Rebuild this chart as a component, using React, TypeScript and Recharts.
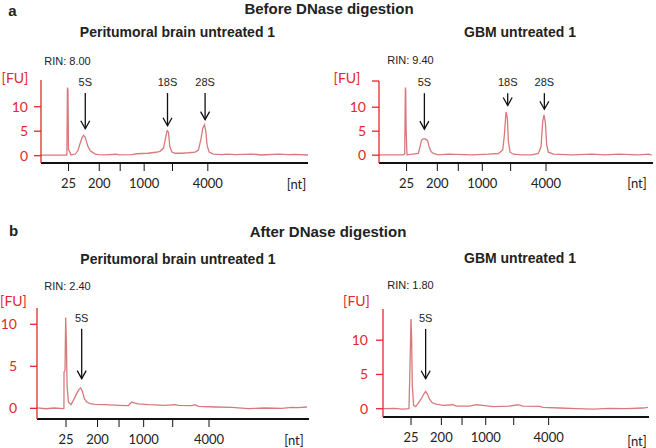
import { LineChart, Line, XAxis, YAxis, ReferenceLine } from 'recharts';

// ladder: migration time (s) of each size marker, and its label
const ladderTimes = [23.16, 28.91, 32.83, 37.32, 42.62, 49.24];
const ladderLabels = ['25', '200', '', '1000', '', '4000'];
const fuTicks = [0, 5, 10];

// a: before DNase, peritumoral brain
const aLeftTime = [18, 20, 22, 22.67, 22.85, 22.95, 23.05, 23.15, 23.35, 23.6, 24.42, 24.9, 25.35, 25.66, 25.97, 26.2, 26.41, 26.79, 27.22, 27.66, 28.16, 28.78, 30, 32.2, 32.5, 35, 36, 38, 39.5, 40.3, 40.94, 41.38, 41.63, 41.87, 42.12, 42.5, 43.12, 44.37, 45.62, 46.86, 47.49, 47.99, 48.3, 48.61, 48.86, 49.11, 49.48, 50.29, 51.85, 52.79, 54.35, 57.46, 59.33, 62.45, 64.32, 65.57, 68];
const aLeftFU = [0.1, 0.1, 0.12, 0.14, 0.15, 13.9, 13.5, 1.2, 0.9, 0.15, 0.34, 1.0, 2.58, 3.6, 4.15, 3.9, 3.27, 1.9, 1.02, 0.68, 0.34, 0.2, 0.15, 0.3, 0.15, 0.2, 0.4, 0.5, 0.7, 0.9, 1.56, 3.9, 5.1, 4.8, 1.9, 0.75, 0.5, 0.5, 0.6, 0.75, 1.15, 3.6, 5.65, 6.3, 5.0, 2.1, 0.75, 0.34, 0.2, 0.34, 0.2, 0.34, 0.14, 0.34, 0.2, 0.27, 0.14];

// a: before DNase, GBM
const aRightTime = [18, 22.56, 22.81, 22.93, 23, 23.06, 23.15, 23.24, 25.36, 25.67, 25.99, 26.3, 26.61, 26.9, 27.11, 27.36, 27.73, 28.17, 29.1, 30.97, 35.34, 38.46, 40.33, 41.14, 41.45, 41.76, 42.01, 42.2, 42.51, 43.13, 44.69, 46.56, 47.81, 48.31, 48.62, 48.87, 49.12, 49.37, 49.68, 50.62, 54.04, 57.78, 60.28, 62.77, 66.51, 68.39, 69.01];
const aRightFU = [0.07, 0.07, 0.3, 14.1, 13.4, 6.3, 2.5, 0.07, 0.35, 1.8, 3.2, 3.4, 3.4, 3.2, 3.0, 1.8, 0.76, 0.35, 0.07, 0.2, 0.07, 0.2, 0.35, 1.1, 4.2, 9.0, 7.7, 2.85, 0.62, 0.2, 0.07, 0.07, 0.35, 1.8, 7.0, 8.4, 6.7, 2.15, 0.62, 0.2, 0.07, 0.2, 0.07, 0.2, 0.07, 0.2, 0.0];

// b: after DNase, peritumoral brain
const bLeftTime = [17.9, 19.5, 21, 22.68, 22.78, 22.8, 22.98, 23.1, 23.23, 23.35, 23.59, 24.08, 24.5, 25.11, 25.53, 25.84, 26.14, 26.51, 26.93, 27.54, 28.45, 30.28, 32.71, 34.53, 35.14, 35.75, 36.35, 38.18, 41.22, 43.04, 43.65, 46.08, 46.69, 47.29, 50.33, 53.37, 56.41, 59.45, 62.49, 64.31, 65.53, 67.11];
const bLeftFU = [0.05, -0.05, 0.04, -0.04, 0.0, 4.33, 4.5, 10.8, 7.9, 2.74, 0.75, 0.44, 0.95, 1.75, 2.26, 2.42, 2.02, 1.15, 0.75, 0.56, 0.48, 0.44, 0.36, 0.32, 0.75, 0.63, 0.52, 0.44, 0.36, 0.44, 0.36, 0.32, 0.44, 0.24, 0.16, 0.12, -0.04, 0.04, 0.0, 0.12, 0.08, 0.16];

// b: after DNase, GBM
const bRightTime = [17.9, 20, 21.5, 22.77, 22.96, 23.15, 23.28, 23.4, 23.65, 24.03, 24.48, 25.11, 25.61, 25.93, 26.24, 26.69, 27.19, 27.95, 29.21, 31.11, 31.74, 34.27, 35.53, 36.79, 38.69, 41.85, 43.43, 44.37, 47.53, 48.16, 51.32, 54.48, 57.64, 60.8, 63.96, 67.11, 68.06];
const bRightFU = [0.0, 0.05, -0.05, 0.0, 5.83, 13.1, 10.2, 3.4, 0.49, 0.29, 0.73, 1.46, 2.18, 2.52, 2.18, 1.36, 0.87, 0.68, 0.49, 0.58, 0.39, 0.39, 0.58, 0.49, 0.29, 0.39, 0.58, 0.39, 0.34, 0.19, 0.1, 0.0, -0.05, 0.05, 0.0, 0.1, 0.19];

// rRNA peak arrows: time, arrow top and tip in FU
const aLeftArrows = [
  { name: '5S', t: 26.29, top: 12.79, tip: 5.51 },
  { name: '18S', t: 41.69, top: 12.79, tip: 6.12 },
  { name: '28S', t: 48.73, top: 12.79, tip: 7.35 },
];
const aRightArrows = [
  { name: '5S', t: 26.49, top: 12.92, tip: 5.42 },
  { name: '18S', t: 42.07, top: 12.92, tip: 10.35 },
  { name: '28S', t: 48.93, top: 12.92, tip: 9.58 },
];
const bLeftArrows = [{ name: '5S', t: 26.02, top: 9.48, tip: 3.53 }];
const bRightArrows = [{ name: '5S', t: 25.93, top: 11.65, tip: 4.37 }];

const RED = '#e2282c';
const TRACE = '#d9797c';
const SANS = '"Liberation Sans", Arial, sans-serif';
const CAL = 'Lato, "Open Sans", sans-serif';

const arrowShape = (name: string) => (p: any) => {
  const x = p.x1;
  const y0 = Math.min(p.y1, p.y2);
  const y1 = Math.max(p.y1, p.y2);
  return (
    <g>
      <text x={x} y={y0 - 7} textAnchor="middle" fontSize={11} fontFamily={SANS} fill="#222">{name}</text>
      <line x1={x} y1={y0} x2={x} y2={y1} stroke="#111" strokeWidth={1.3} />
      <polyline points={`${x - 4.5},${y1 - 8} ${x},${y1} ${x + 4.5},${y1 - 8}`} fill="none" stroke="#111" strokeWidth={1.3} />
    </g>
  );
};

function Trace({ time, fu, arrows, plot, xDomain, yDomain, yGap, cap }: any) {
  const data = time.map((t: number, i: number) => ({ t, fu: fu[i] }));
  const [L, T, R, B] = plot;
  const yTicks = cap ? [...fuTicks, yDomain[1]] : fuTicks;
  return (
    <div style={{ position: 'absolute', left: L - 40, top: T - 20 }}>
      <LineChart width={R - L + 42} height={B - T + 50} data={data} margin={{ top: 20, right: 2, bottom: 0, left: 0 }}>
        <XAxis
          type="number"
          dataKey="t"
          domain={xDomain}
          allowDataOverflow
          ticks={ladderTimes}
          interval={0}
          tickFormatter={(v: number) => ladderLabels[ladderTimes.indexOf(v)] ?? ''}
          axisLine={{ stroke: '#111', strokeWidth: 2 }}
          tickLine={{ stroke: '#111' }}
          tickSize={8}
          tickMargin={8}
          tick={{ fill: '#222', fontSize: 13, fontFamily: CAL }}
          height={30}
        />
        <YAxis
          type="number"
          domain={yDomain}
          allowDataOverflow
          ticks={yTicks}
          interval={0}
          tickFormatter={(v: number) => (fuTicks.includes(v) ? String(v) : '')}
          axisLine={{ stroke: RED, strokeWidth: 1.3 }}
          tickLine={{ stroke: RED, strokeWidth: 1.3 }}
          tickSize={7}
          tickMargin={yGap}
          tick={{ fill: RED, fontSize: 14, fontFamily: CAL }}
          width={40}
        />
        <Line type="linear" dataKey="fu" stroke={TRACE} strokeWidth={1.3} dot={false} isAnimationActive={false} />
        {arrows.map((a: any) => (
          <ReferenceLine
            key={a.name}
            segment={[{ x: a.t, y: a.top }, { x: a.t, y: a.tip }]}
            shape={arrowShape(a.name)}
          />
        ))}
      </LineChart>
    </div>
  );
}

function Txt({ x, y, children, size = 11, bold = false, color = '#222', font = SANS }: any) {
  return (
    <div
      style={{
        position: 'absolute', left: x, top: y, transform: 'translate(-50%, -50%)',
        whiteSpace: 'nowrap', lineHeight: 1, fontSize: size, fontWeight: bold ? 700 : 400,
        color, fontFamily: font,
      }}
    >
      {children}
    </div>
  );
}

export default function App() {
  return (
    <div style={{ position: 'absolute', left: 0, top: 0, width: 656, height: 448, overflow: 'hidden', background: '#fff' }}>
      <Txt x={12.5} y={10} size={15} bold>a</Txt>
      <Txt x={329} y={8} size={15} bold>Before DNase digestion</Txt>
      <Txt x={177.5} y={32} size={14} bold>Peritumoral brain untreated 1</Txt>
      <Txt x={520} y={32} size={14} bold>GBM untreated 1</Txt>

      <Txt x={67.5} y={60.5}>RIN: 8.00</Txt>
      <Txt x={410.5} y={59.5}>RIN: 9.40</Txt>
      <Txt x={15} y={78} size={14} color={RED} font={CAL}>[FU]</Txt>
      <Txt x={347} y={77.5} size={14} color={RED} font={CAL}>[FU]</Txt>

      <Trace time={aLeftTime} fu={aLeftFU} arrows={aLeftArrows} plot={[41, 80, 308, 163]} xDomain={[18, 68]} yDomain={[-1.49, 15.45]} yGap={6} />
      <Trace time={aRightTime} fu={aRightFU} arrows={aRightArrows} plot={[379, 81, 653, 163]} xDomain={[18, 69.25]} yDomain={[-1.63, 15.46]} yGap={6} cap />

      <Txt x={296.5} y={183.5} size={13} font={CAL}>[nt]</Txt>
      <Txt x={637} y={183} size={13} font={CAL}>[nt]</Txt>

      <Txt x={13.5} y={230} size={15} bold>b</Txt>
      <Txt x={328} y={231} size={15} bold>After DNase digestion</Txt>
      <Txt x={178} y={258.5} size={14} bold>Peritumoral brain untreated 1</Txt>
      <Txt x={520} y={257.5} size={14} bold>GBM untreated 1</Txt>

      <Txt x={67.5} y={286}>RIN: 2.40</Txt>
      <Txt x={410.5} y={285}>RIN: 1.80</Txt>
      <Txt x={13.5} y={301} size={14} color={RED} font={CAL}>[FU]</Txt>
      <Txt x={356.5} y={301} size={14} color={RED} font={CAL}>[FU]</Txt>

      <Trace time={bLeftTime} fu={bLeftFU} arrows={bLeftArrows} plot={[37, 308, 309, 419]} xDomain={[17.87, 67.47]} yDomain={[-1.27, 11.94]} yGap={13} />
      <Trace time={bRightTime} fu={bRightFU} arrows={bRightArrows} plot={[383, 309, 649, 417]} xDomain={[17.85, 68.26]} yDomain={[-1.21, 14.55]} yGap={8} />

      <Txt x={294} y={440} size={13} font={CAL}>[nt]</Txt>
      <Txt x={637} y={440.5} size={13} font={CAL}>[nt]</Txt>
    </div>
  );
}
